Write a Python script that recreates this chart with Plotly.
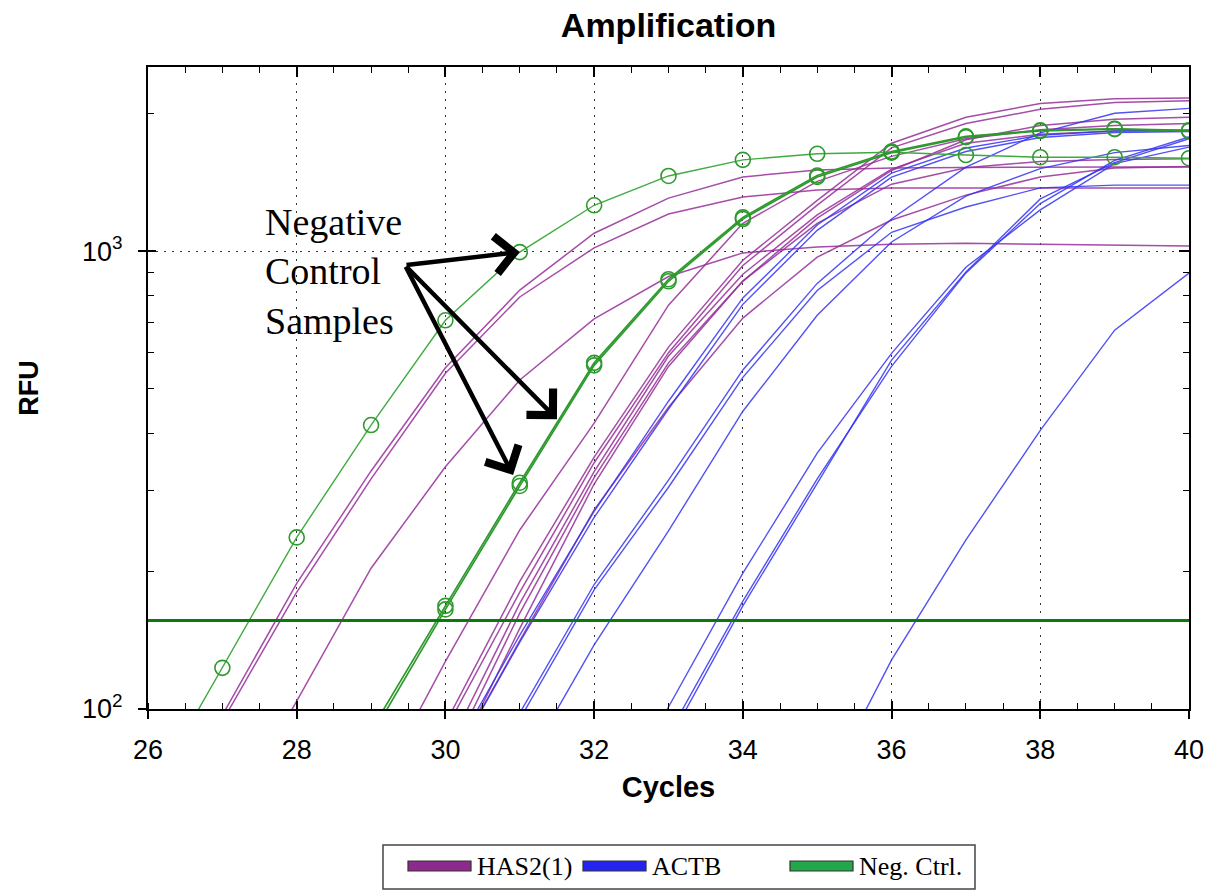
import plotly.graph_objects as go

# ---- data -------------------------------------------------------------
cycles = list(range(26, 41))

# HAS2(1) wells (RFU per cycle)
has2_1 = [50, 97, 188, 331, 556, 822, 1094, 1305, 1452, 1504, 1518, 1522, 1526, 1526, 1526]
has2_2 = [48, 94, 180, 318, 541, 794, 1016, 1205, 1313, 1359, 1374, 1374, 1374, 1374, 1374]
has2_3 = [28, 55, 104, 203, 338, 523, 711, 880, 991, 1021, 1035, 1040, 1035, 1030, 1026]
has2_4 = [9, 17, 33, 63, 127, 246, 421, 762, 1150, 1420, 1610, 1760, 1840, 1880, 1900]
has2_5 = [6, 12, 24, 47, 93, 190, 355, 617, 955, 1290, 1720, 1960, 2100, 2150, 2160]
has2_6 = [6, 11, 22, 45, 90, 180, 345, 600, 930, 1260, 1680, 1900, 2040, 2110, 2130]
has2_7 = [5, 10, 20, 40, 80, 170, 330, 590, 890, 1200, 1510, 1720, 1800, 1830, 1833]
has2_8 = [5, 9, 19, 37, 75, 162, 320, 570, 860, 1150, 1400, 1520, 1570, 1585, 1590]
has2_9 = [4, 9, 17, 35, 70, 150, 310, 560, 860, 1180, 1500, 1750, 1880, 1940, 1960]
has2_10 = [4, 9, 18, 36, 72, 141, 272, 456, 714, 970, 1169, 1325, 1452, 1518, 1530]

# ACTB wells
actb_1 = [6, 11, 21, 40, 75, 145, 270, 470, 790, 1140, 1480, 1679, 1790, 1830, 1837]
actb_2 = [5, 10, 20, 38, 72, 140, 262, 452, 765, 1110, 1450, 1650, 1770, 1815, 1825]
actb_3 = [3, 6, 12, 25, 50, 98, 187, 316, 550, 850, 1175, 1525, 1812, 2000, 2050]
actb_4 = [3, 6, 12, 24, 48, 95, 182, 305, 530, 820, 1099, 1248, 1374, 1393, 1393]
actb_5 = [2, 4, 9, 18, 37, 72, 138, 245, 447, 724, 1047, 1318, 1514, 1641, 1700]
actb_6 = [1, 2, 4, 7, 14, 27, 52, 101, 198, 362, 598, 922, 1230, 1553, 1687]
actb_7 = [1, 2, 3, 6, 12, 23, 45, 88, 172, 318, 560, 896, 1270, 1578, 1775]
actb_8 = [1, 2, 3, 6, 11, 22, 44, 85, 168, 311, 578, 900, 1300, 1560, 1760]
actb_9 = [1, 1, 1, 1, 2, 4, 8, 15, 30, 62, 128, 234, 406, 672, 895]

# negative control wells
neg_ctrl_1 = [64, 123, 237, 417, 706, 995, 1259, 1459, 1582, 1631, 1644, 1621, 1603, 1603, 1595]
neg_ctrl_2 = [12, 24, 46, 87, 165, 307, 563, 859, 1175, 1452, 1640, 1774, 1829, 1846, 1829]
neg_ctrl_3 = [12, 25, 48, 90, 168, 312, 570, 868, 1185, 1462, 1650, 1780, 1836, 1850, 1835]

threshold_rfu = 156

x_ticks = [26, 28, 30, 32, 34, 36, 38, 40]
y_ticks = [100, 1000]
y_tick_text = ["10<sup>2</sup>", "10<sup>3</sup>"]
y_minor_ticks = [200, 300, 400, 500, 600, 700, 800, 900, 2000]

series_names = ["HAS2(1)", "ACTB", "Neg. Ctrl."]
legend_colors = ["#8E2A8E", "#2424F0", "#22A84A"]

# ---- page geometry ------------------------------------------------------
W, H = 1217, 890
ML, MR, MT, MB = 148, 28, 67, 181
PW, PH = W - ML - MR, H - MT - MB
X_RANGE = [26, 40]
Y_RANGE = [2.0, 3.402]   # log10 RFU


def paper_x(px):
    return (px - ML) / PW


def paper_y(py):
    return (H - MB - py) / PH


SANS = "Liberation Sans, Arial, sans-serif"
SERIF = "Liberation Serif, Times New Roman, serif"

fig = go.Figure()

has2_wells = [has2_1, has2_2, has2_3, has2_4, has2_5, has2_6, has2_7, has2_8, has2_9, has2_10]
actb_wells = [actb_1, actb_2, actb_3, actb_4, actb_5, actb_6, actb_7, actb_8, actb_9]

for rfu in has2_wells:
    fig.add_trace(go.Scatter(x=cycles, y=rfu, mode="lines", name=series_names[0],
                             line=dict(color="#962E99", width=1.5), opacity=0.85,
                             showlegend=False))
for rfu in actb_wells:
    fig.add_trace(go.Scatter(x=cycles, y=rfu, mode="lines", name=series_names[1],
                             line=dict(color="#3434F4", width=1.4), opacity=0.85,
                             showlegend=False))

marker_style = dict(symbol="circle-open", size=15, line=dict(width=1.6, color="#2E9A2E"),
                    color="#2E9A2E")
fig.add_trace(go.Scatter(x=cycles, y=neg_ctrl_1, mode="lines+markers", name=series_names[2],
                         line=dict(color="#3FAA3F", width=1.4), marker=marker_style,
                         showlegend=False))
for rfu in [neg_ctrl_2, neg_ctrl_3]:
    fig.add_trace(go.Scatter(x=cycles, y=rfu, mode="lines+markers", name=series_names[2],
                             line=dict(color="#2E9A2E", width=1.7), marker=marker_style,
                             showlegend=False))

# threshold line
fig.add_trace(go.Scatter(x=[cycles[0], cycles[-1]], y=[threshold_rfu, threshold_rfu],
                         mode="lines", line=dict(color="#0B7A0B", width=3),
                         showlegend=False, hoverinfo="skip"))

# empty traces that bring the tick-only overlay axes into use
fig.add_trace(go.Scatter(x=[], y=[], xaxis="x2", yaxis="y2", showlegend=False, hoverinfo="skip"))
fig.add_trace(go.Scatter(x=[], y=[], xaxis="x3", yaxis="y3", showlegend=False, hoverinfo="skip"))

grid_dash = "2px,6px"
tick_font = dict(family=SANS, size=27, color="black")

fig.update_layout(
    width=W, height=H,
    margin=dict(l=ML, r=MR, t=MT, b=MB, autoexpand=False),
    paper_bgcolor="white", plot_bgcolor="white",
    showlegend=False,
    title=dict(text="Amplification", x=0.5, xanchor="center", xref="paper",
               y=1 - 25 / H, yanchor="middle", yref="container",
               font=dict(family=SANS, size=34, color="black", weight="bold")),
    xaxis=dict(range=X_RANGE, tickvals=x_ticks, ticks="outside", ticklen=8, tickwidth=1.5,
               tickcolor="black", showline=True, linecolor="black", linewidth=2, mirror=True,
               showgrid=True, gridcolor="#333333", gridwidth=1, griddash=grid_dash,
               zeroline=False, tickfont=tick_font, ticklabelstandoff=8,
               minor=dict(dtick=0.5, tick0=26, ticks="inside", ticklen=6, tickwidth=1.3,
                          tickcolor="black", showgrid=False),
               title=dict(text="Cycles", standoff=12,
                          font=dict(family=SANS, size=29, color="black", weight="bold"))),
    yaxis=dict(type="log", range=Y_RANGE, tickvals=y_ticks, ticktext=y_tick_text,
               ticks="outside", ticklen=8, tickwidth=1.5, tickcolor="black",
               showline=True, linecolor="black", linewidth=2, mirror=True,
               showgrid=True, gridcolor="#333333", gridwidth=1, griddash=grid_dash,
               zeroline=False, tickfont=tick_font, ticklabelstandoff=10,
               minor=dict(tickvals=y_minor_ticks, ticks="inside", ticklen=6, tickwidth=1.3,
                          tickcolor="black", showgrid=False),
               title=dict(text="RFU", standoff=36,
                          font=dict(family=SANS, size=27, color="black", weight="bold"))),
    # inward ticks along the top and right frame
    xaxis2=dict(overlaying="x", side="top", anchor="y", range=X_RANGE, tickvals=x_ticks,
                ticks="inside", ticklen=10, tickwidth=1.5, tickcolor="black",
                showticklabels=False, showgrid=False, showline=False, zeroline=False,
                minor=dict(dtick=0.5, tick0=26, ticks="inside", ticklen=6, tickwidth=1.3,
                           tickcolor="black", showgrid=False)),
    yaxis2=dict(overlaying="y", side="right", anchor="x", type="log", range=Y_RANGE,
                tickvals=y_ticks, ticks="inside", ticklen=10, tickwidth=1.5, tickcolor="black",
                showticklabels=False, showgrid=False, showline=False, zeroline=False,
                minor=dict(tickvals=y_minor_ticks, ticks="inside", ticklen=6, tickwidth=1.3,
                           tickcolor="black", showgrid=False)),
    # inward half of the crossing major ticks on bottom and left
    xaxis3=dict(overlaying="x", side="bottom", anchor="y", range=X_RANGE, tickvals=x_ticks,
                ticks="inside", ticklen=8, tickwidth=1.5, tickcolor="black",
                showticklabels=False, showgrid=False, showline=False, zeroline=False),
    yaxis3=dict(overlaying="y", side="left", anchor="x", type="log", range=Y_RANGE,
                tickvals=y_ticks, ticks="inside", ticklen=8, tickwidth=1.5, tickcolor="black",
                showticklabels=False, showgrid=False, showline=False, zeroline=False),
)

# callout pointing at the negative-control wells
fig.add_annotation(x=27.55, y=2.956, xref="x", yref="y", xanchor="left", yanchor="middle",
                   text="Negative<br>Control<br>Samples", showarrow=False, align="left",
                   font=dict(family=SERIF, size=38, color="black"))
tail = (29.456, 2.969)
for head in [(31.0, 2.998), (31.50, 2.633), (30.91, 2.511)]:
    fig.add_annotation(x=head[0], y=head[1], xref="x", yref="y",
                       ax=tail[0], ay=tail[1], axref="x", ayref="y",
                       text="", showarrow=True, arrowhead=4, arrowsize=1.6,
                       arrowwidth=4.5, arrowcolor="black", standoff=0)

# legend box under the plot
fig.add_shape(type="rect", xref="paper", yref="paper",
              x0=paper_x(383), x1=paper_x(975), y0=paper_y(889), y1=paper_y(845),
              line=dict(color="#444444", width=1.5), fillcolor="white")
swatch_left = [408, 583, 790]
for name, color, left in zip(series_names, legend_colors, swatch_left):
    fig.add_shape(type="rect", xref="paper", yref="paper",
                  x0=paper_x(left), x1=paper_x(left + 63),
                  y0=paper_y(871), y1=paper_y(861),
                  line=dict(color="#333333", width=1.2), fillcolor=color)
    fig.add_annotation(x=paper_x(left + 67), y=paper_y(866), xref="paper", yref="paper",
                       xanchor="left", yanchor="middle", text=name, showarrow=False,
                       font=dict(family=SERIF, size=26, color="black"))

fig.write_html("out.html")
